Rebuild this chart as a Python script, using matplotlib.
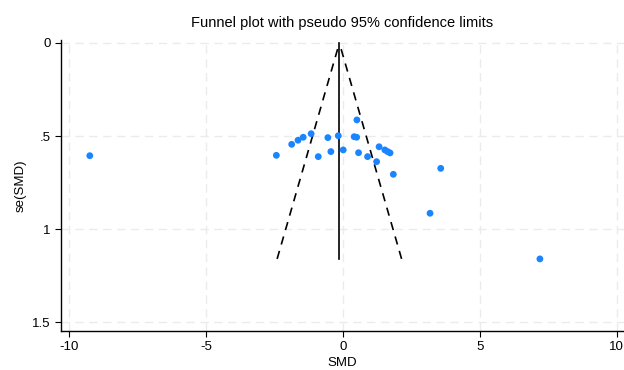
import matplotlib
matplotlib.use("Agg")
import matplotlib.pyplot as plt
import numpy as np

plt.rcParams['font.family'] = ['Liberation Sans', 'DejaVu Sans']

# Study-level data (SMD, standard error)
smd = [-9.24, -2.43, -1.87, -1.64, -1.45, -1.16, -0.90, -0.55, -0.44, -0.17,
       0.01, 0.51, 0.41, 0.50, 0.57, 0.90, 1.23, 1.32, 1.53, 1.63,
       1.72, 1.84, 3.18, 3.57, 7.19]
se = [0.605, 0.603, 0.544, 0.522, 0.506, 0.487, 0.610, 0.508, 0.583, 0.498,
      0.574, 0.413, 0.503, 0.506, 0.589, 0.610, 0.637, 0.557, 0.574, 0.583,
      0.590, 0.705, 0.914, 0.673, 1.159]
pooled = -0.13
x_ticks = [-10, -5, 0, 5, 10]
y_ticks = [0, 0.5, 1, 1.5]
y_tick_labels = ["0", ".5", "1", "1.5"]

fig = plt.figure(figsize=(6.24, 3.70), dpi=100)
ax = fig.add_axes([0.0978, 0.1054, 0.9022, 0.7865])

se_max = max(se)
ax.plot([pooled, pooled], [0, se_max], color='black', lw=1.2, zorder=3)
# dashed pseudo 95% limits, drawn from the bottom up to the apex
ax.plot([pooled - 1.96 * se_max, pooled], [se_max, 0], color='black', lw=1.2,
        dashes=(5, 4), zorder=3)
ax.plot([pooled + 1.96 * se_max, pooled], [se_max, 0], color='black', lw=1.2,
        dashes=(5, 4), zorder=3)

ax.scatter(smd, se, s=24, color='#1a85ff', edgecolors='none', zorder=4)

ax.set_xlim(-10.29, 10.26)
ax.set_ylim(1.546, -0.016)
ax.set_xticks(x_ticks)
ax.set_xticklabels([str(t) for t in x_ticks])
ax.set_yticks(y_ticks)
ax.set_yticklabels(y_tick_labels)

ax.grid(True, color='#ebebeb', lw=1.0, dashes=(6, 4))
ax.set_axisbelow(True)

for s in ['top', 'right']:
    ax.spines[s].set_visible(False)
for s in ['left', 'bottom']:
    ax.spines[s].set_color('black')
    ax.spines[s].set_linewidth(1.0)

ax.tick_params(axis='both', direction='out', length=4, width=0.8,
               labelsize=9.5, colors='black')
ax.tick_params(axis='x', pad=3)

ax.set_xlabel("SMD", fontsize=9.5, labelpad=3)
ax.set_ylabel("se(SMD)", fontsize=9.5, labelpad=4)
ax.set_title("Funnel plot with pseudo 95% confidence limits", fontsize=10.5, pad=9)

fig.savefig("out.png", dpi=100)
